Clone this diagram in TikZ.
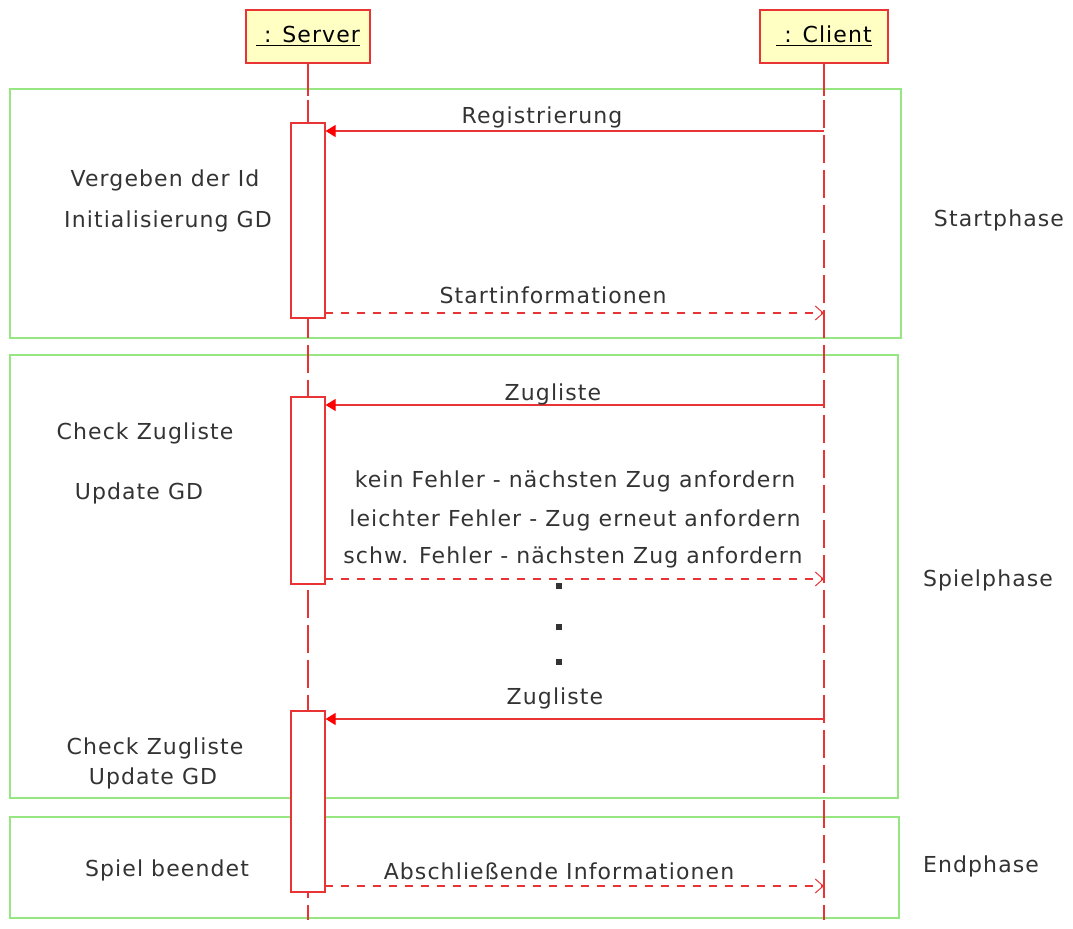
\documentclass[tikz,border=0pt]{standalone}
\usepackage{fontspec}
\setmainfont[LetterSpace=5]{DejaVu Sans}
\usepackage{xcolor}
\usetikzlibrary{arrows.meta,positioning,calc}

\definecolor{lifered}{RGB}{232,52,52}
\definecolor{boxyellow}{RGB}{255,255,196}
\definecolor{framegreen}{RGB}{150,230,130}
\definecolor{textgray}{RGB}{51,51,51}

\tikzset{
    objbox/.style={draw=lifered, fill=boxyellow, line width=0.6pt, minimum height=26.5pt, inner sep=0pt},
    actbox/.style={draw=lifered, fill=white, line width=0.6pt, minimum width=17pt, inner sep=0pt},
    lifeln/.style={draw=lifered, line width=1pt},
    call/.style={draw=lifered, line width=0.6pt, -{Triangle[length=5pt,width=6pt,fill=red,color=red]}},
    reply/.style={draw=lifered, line width=0.6pt, dash pattern=on 4pt off 4pt, -{Straight Barb[length=4pt,width=7pt,line width=0.5pt]}},
    phase/.style={draw=framegreen, line width=0.7pt},
    lbl/.style={text=textgray, font=\fontsize{11}{13}\selectfont, inner sep=0pt},
    dotsq/.style={fill=textgray, minimum size=3pt, inner sep=0pt}
}

\begin{document}
\begin{tikzpicture}[x=0.5pt, y=-0.5pt]
    \useasboundingbox (0,0) rectangle (1073,929);

    % Phase frames
    \draw[phase] (10,89) rectangle (901,338);
    \draw[phase] (10,355) rectangle (898,798);
    \draw[phase] (10,817) rectangle (899,918);

    % Objects
    \node[objbox, minimum width=62pt] (server) at (308,36.5) {\fontsize{11}{13}\selectfont\underline{~: Server}};
    \node[objbox, minimum width=64pt] (client) at (824,36.5) {\fontsize{11}{13}\selectfont\underline{~: Client}};

    % Lifelines (long dashes)
    \coordinate (serverend) at (308,920);
    \coordinate (clientend) at (824,920);
    \draw[lifeln] (server.south) -- ++(0,32);
    \draw[lifeln] (client.south) -- ++(0,32);
    \foreach \y in {100,135,...,870} {
        \draw[lifeln] (server.south |- 0,\y) -- ++(0,28);
        \draw[lifeln] (client.south |- 0,\y) -- ++(0,28);
    }
    \draw[lifeln] (serverend |- 0,905) -- (serverend);
    \draw[lifeln] (clientend |- 0,905) -- (clientend);

    % Activations
    \node[actbox, minimum height=97.5pt] (act1) at (308,220.5) {};
    \node[actbox, minimum height=93.5pt] (act2) at (308,490.5) {};
    \node[actbox, minimum height=90.5pt] (act3) at (308,801.5) {};

    % Startphase
    \coordinate (reg) at (824,131);
    \draw[call] (reg) -- (reg -| act1.east);
    \node[lbl] (reglbl) at (542,117) {Registrierung};
    \coordinate (startinfo) at (325,313);
    \draw[reply] (startinfo) -- (startinfo -| client.south);
    \node[lbl] (startlbl) at (553,295) {Startinformationen};
    \node[lbl] (vergeben) at (165,180) {Vergeben der Id};
    \node[lbl] (initgd) at (168,221) {Initialisierung GD};
    \node[lbl] (startphase) at (999,220) {Startphase};

    % Spielphase
    \coordinate (zug1) at (824,405);
    \draw[call] (zug1) -- (zug1 -| act2.east);
    \node[lbl] (zug1lbl) at (553,394) {Zugliste};
    \node[lbl] (check1) at (145,433) {Check Zugliste};
    \node[lbl] (update1) at (139,493) {Update GD};
    \node[lbl] (kein) at (575,481) {kein Fehler - nächsten Zug anfordern};
    \node[lbl] (leicht) at (575,520) {leichter Fehler - Zug erneut anfordern};
    \node[lbl] (schw) at (573,557) {schw. Fehler - nächsten Zug anfordern};
    \coordinate (antwort) at (325,579);
    \draw[reply] (antwort) -- (antwort -| client.south);
    \node[dotsq] (dot1) at (559,586) {};
    \node[dotsq] (dot2) at (559,627) {};
    \node[dotsq] (dot3) at (559,662) {};
    \coordinate (zug2) at (824,719);
    \draw[call] (zug2) -- (zug2 -| act3.east);
    \node[lbl] (zug2lbl) at (555,698) {Zugliste};
    \node[lbl] (check2) at (155,748) {Check Zugliste};
    \node[lbl] (update2) at (153,778) {Update GD};
    \node[lbl] (spielphase) at (988,580) {Spielphase};

    % Endphase
    \coordinate (endinfo) at (325,886);
    \draw[reply] (endinfo) -- (endinfo -| client.south);
    \node[lbl] (endlbl) at (559,871) {Abschließende Informationen};
    \node[lbl] (beendet) at (167,870) {Spiel beendet};
    \node[lbl] (endphase) at (981,866) {Endphase};
\end{tikzpicture}
\end{document}
